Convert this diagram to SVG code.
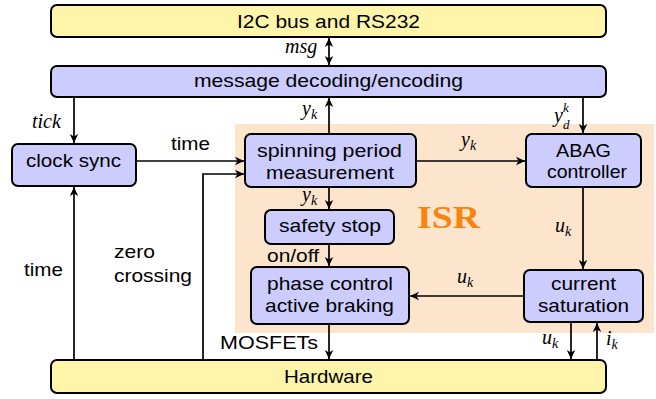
<svg xmlns="http://www.w3.org/2000/svg" width="656" height="399" viewBox="0 0 656 399">
<defs>
<marker id="ah" markerUnits="userSpaceOnUse" markerWidth="12" markerHeight="10" refX="10" refY="5" orient="auto-start-reverse" viewBox="0 0 12 10">
<path d="M10,5 L1,0.8 L3.5,5 L1,9.2 Z" fill="#000"/>
</marker>
<style>
.bx{stroke:#000;stroke-width:2}
.y{fill:#fff5aa}
.b{fill:#ccccff}
.t{font-family:"Liberation Sans",Arial,sans-serif;font-size:19px;fill:#000}
.m{font-family:"Liberation Serif","Times New Roman",serif;font-style:italic;font-size:20px;fill:#000}
.s{font-size:14px}
.ss{font-family:"Liberation Serif","Times New Roman",serif;font-style:italic;font-size:13px;fill:#000}
.ln{stroke:#000;stroke-width:1.7;fill:none;marker-end:url(#ah)}
</style>
</defs>
<rect x="235" y="124" width="419" height="209" fill="#fde4cc"/>
<text x="417" y="228" font-family="'Liberation Serif','Times New Roman',serif" font-weight="bold" font-size="31" fill="#f8840f" textLength="63" lengthAdjust="spacingAndGlyphs">ISR</text>
<g id="i2c"><rect class="bx y" x="51" y="5" width="555" height="32" rx="6"/><text class="t" x="237" y="27.5" textLength="183" lengthAdjust="spacingAndGlyphs">I2C bus and RS232</text></g>
<g id="msgdec"><rect class="bx b" x="51" y="66" width="555" height="31" rx="6"/><text class="t" x="194" y="87" textLength="269" lengthAdjust="spacingAndGlyphs">message decoding/encoding</text></g>
<g id="clock"><rect class="bx b" x="12" y="144" width="124" height="42" rx="6"/><text class="t" x="26" y="167" textLength="95" lengthAdjust="spacingAndGlyphs">clock sync</text></g>
<g id="spin"><rect class="bx b" x="245" y="134" width="171" height="53" rx="6"/><text class="t" x="257" y="157" textLength="145" lengthAdjust="spacingAndGlyphs">spinning period</text><text class="t" x="266" y="179" textLength="128" lengthAdjust="spacingAndGlyphs">measurement</text></g>
<g id="abag"><rect class="bx b" x="526" y="134" width="115" height="53" rx="6"/><text class="t" x="556" y="157" textLength="55" lengthAdjust="spacingAndGlyphs">ABAG</text><text class="t" x="547" y="178" textLength="80" lengthAdjust="spacingAndGlyphs">controller</text></g>
<g id="safety"><rect class="bx b" x="265" y="210" width="129" height="34" rx="6"/><text class="t" x="279" y="232" textLength="102" lengthAdjust="spacingAndGlyphs">safety stop</text></g>
<g id="phase"><rect class="bx b" x="251" y="267" width="158" height="57" rx="6"/><text class="t" x="267" y="289.5" textLength="126" lengthAdjust="spacingAndGlyphs">phase control</text><text class="t" x="265" y="312" textLength="129" lengthAdjust="spacingAndGlyphs">active braking</text></g>
<g id="cursat"><rect class="bx b" x="524" y="270" width="119" height="52" rx="6"/><text class="t" x="551" y="290" textLength="65" lengthAdjust="spacingAndGlyphs">current</text><text class="t" x="538" y="312" textLength="91" lengthAdjust="spacingAndGlyphs">saturation</text></g>
<g id="hw"><rect class="bx y" x="51" y="360" width="555" height="33" rx="6"/><text class="t" x="284" y="383" textLength="89" lengthAdjust="spacingAndGlyphs">Hardware</text></g>
<g id="connectors">
<line class="ln" x1="329" y1="38" x2="329" y2="65" style="marker-start:url(#ah)"/>
<line class="ln" x1="74" y1="98" x2="74" y2="143"/>
<line class="ln" x1="136" y1="161" x2="244" y2="161"/>
<polyline class="ln" points="203,359 203,174 244,174"/>
<line class="ln" x1="74" y1="359" x2="74" y2="187"/>
<line class="ln" x1="329" y1="134" x2="329" y2="98"/>
<line class="ln" x1="416" y1="161" x2="525" y2="161"/>
<line class="ln" x1="583" y1="98" x2="583" y2="133"/>
<line class="ln" x1="583" y1="187" x2="583" y2="269"/>
<line class="ln" x1="524" y1="296" x2="410" y2="296"/>
<line class="ln" x1="329" y1="187" x2="329" y2="209"/>
<line class="ln" x1="329" y1="244" x2="329" y2="266"/>
<line class="ln" x1="329" y1="324" x2="329" y2="359"/>
<line class="ln" x1="571" y1="322" x2="571" y2="359"/>
<line class="ln" x1="597" y1="359" x2="597" y2="323"/>
</g>
<g id="labels">
<text class="m" x="285" y="53">msg</text>
<text class="m" x="32" y="128">tick</text>
<text class="t" x="171" y="150" textLength="39" lengthAdjust="spacingAndGlyphs">time</text>
<text class="t" x="24" y="276" textLength="39" lengthAdjust="spacingAndGlyphs">time</text>
<text class="t" x="114" y="258" textLength="41" lengthAdjust="spacingAndGlyphs">zero</text>
<text class="t" x="114" y="282" textLength="78" lengthAdjust="spacingAndGlyphs">crossing</text>
<text class="m" x="302" y="115">y<tspan class="s" dy="4">k</tspan></text>
<text class="m" x="461" y="146">y<tspan class="s" dy="4">k</tspan></text>
<text class="m" x="554" y="122">y</text>
<text class="ss" x="563" y="112">k</text>
<text class="ss" x="563" y="129">d</text>
<text class="m" x="302" y="201" font-size="19">y<tspan class="s" dy="4">k</tspan></text>
<text class="t" x="267" y="262" textLength="52" lengthAdjust="spacingAndGlyphs">on/off</text>
<text class="m" x="555" y="232">u<tspan class="s" dy="4">k</tspan></text>
<text class="m" x="457" y="283">u<tspan class="s" dy="4">k</tspan></text>
<text class="t" x="220" y="349" textLength="98" lengthAdjust="spacingAndGlyphs">MOSFETs</text>
<text class="m" x="542" y="344">u<tspan class="s" dy="4">k</tspan></text>
<text class="m" x="606" y="345">i<tspan class="s" dy="4">k</tspan></text>
</g>
</svg>
